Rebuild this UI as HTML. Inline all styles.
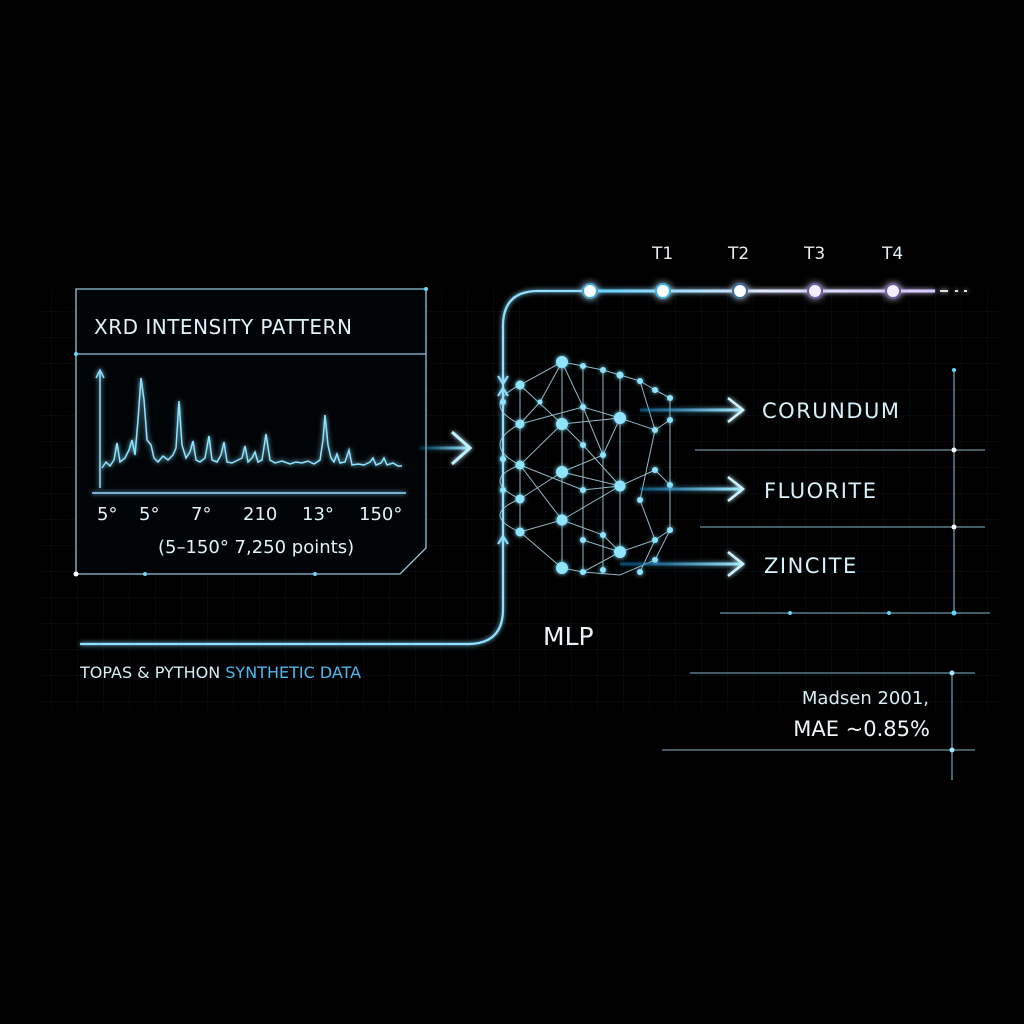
<!DOCTYPE html>
<html><head><meta charset="utf-8"><style>
html,body{margin:0;padding:0;background:#000;}
svg{display:block}
text{font-family:"DejaVu Sans","Liberation Sans",sans-serif;}
</style></head><body>
<svg width="1024" height="1024" viewBox="0 0 1024 1024" xmlns="http://www.w3.org/2000/svg">
<defs>
<filter id="g" x="-50%" y="-50%" width="200%" height="200%"><feGaussianBlur stdDeviation="2.5" result="b"/><feMerge><feMergeNode in="b"/><feMergeNode in="SourceGraphic"/></feMerge></filter>
<filter id="g2" x="-50%" y="-50%" width="200%" height="200%"><feGaussianBlur stdDeviation="4" result="b"/><feMerge><feMergeNode in="b"/><feMergeNode in="SourceGraphic"/></feMerge></filter>
<linearGradient id="tl" gradientUnits="userSpaceOnUse" x1="590" y1="0" x2="935" y2="0"><stop offset="0" stop-color="#5fd0ff"/><stop offset="0.5" stop-color="#e0e8ff"/><stop offset="1" stop-color="#d8c8ff"/></linearGradient>
<linearGradient id="ar1" gradientUnits="userSpaceOnUse" x1="640" y1="0" x2="743" y2="0"><stop offset="0" stop-color="#1a8fd0" stop-opacity="0.4"/><stop offset="1" stop-color="#a8ecff"/></linearGradient>
<linearGradient id="ar2" gradientUnits="userSpaceOnUse" x1="420" y1="0" x2="470" y2="0"><stop offset="0" stop-color="#1a8fd0" stop-opacity="0.2"/><stop offset="1" stop-color="#a8ecff"/></linearGradient>
<pattern id="grid" width="26" height="26" patternUnits="userSpaceOnUse"><path d="M26 0V26H0" fill="none" stroke="#0c2230" stroke-width="1"/></pattern>
</defs>
<rect width="1024" height="1024" fill="#000"/>
<rect x="40" y="290" width="960" height="420" fill="url(#grid)" opacity="0.6"/>

<!-- XRD box -->
<path d="M76 289H426V548L400 574H76Z" fill="#010407" stroke="#8fc7da" stroke-width="1.3"/>
<line x1="76" y1="354" x2="426" y2="354" stroke="#8fc7da" stroke-width="1.3"/>
<circle cx="426" cy="289" r="2" fill="#6fd8ff"/><circle cx="76" cy="354" r="2" fill="#6fd8ff"/><circle cx="76" cy="574" r="2.5" fill="#fff"/>
<circle cx="145" cy="574" r="2" fill="#6fd8ff"/><circle cx="315" cy="574" r="2" fill="#6fd8ff"/>
<text x="94" y="334" font-size="20" fill="#dff3fb" letter-spacing="0.5">XRD INTENSITY PATTERN</text>
<g filter="url(#g)">
<line x1="100" y1="488" x2="100" y2="372" stroke="#8fdcff" stroke-width="1.5"/>
<path d="M96 378L100 370L104 378" fill="none" stroke="#8fdcff" stroke-width="1.5"/>
<line x1="92" y1="493" x2="406" y2="493" stroke="#8fdcff" stroke-width="1.5"/>
<path d="M102 468 L106 462 L110 466 L114 460 L117 443 L120 462 L125 458 L129 450 L132 440 L135 455 L138 420 L141 378 L144 400 L147 440 L151 445 L154 458 L158 462 L163 456 L168 460 L173 455 L176 448 L179 401 L182 445 L186 458 L190 452 L193 441 L196 460 L200 462 L205 458 L209 436 L212 460 L217 462 L221 455 L224 442 L227 462 L232 463 L238 460 L242 458 L245 446 L248 462 L252 458 L255 452 L258 462 L262 460 L266 434 L270 460 L275 463 L282 461 L290 464 L296 462 L302 463 L308 461 L314 464 L320 460 L323 440 L325 415 L328 445 L331 458 L334 462 L337 454 L340 463 L345 462 L349 450 L352 465 L358 464 L364 465 L370 462 L373 458 L376 465 L381 463 L384 458 L387 465 L393 463 L398 466 L402 466" fill="none" stroke="#8ee4ff" stroke-width="1.5"/>
</g>
<g font-size="18" fill="#dff3fb">
<text x="97" y="520">5°</text><text x="139" y="520">5°</text><text x="191" y="520">7°</text><text x="243" y="520">210</text><text x="302" y="520">13°</text><text x="359" y="520">150°</text>
<text x="158" y="553">(5–150° 7,250 points)</text>
</g>
<!-- arrow to net -->
<g filter="url(#g)">
<line x1="420" y1="448" x2="470" y2="448" stroke="url(#ar2)" stroke-width="3"/>
<path d="M452 432L470 448L452 464" fill="none" stroke="#bfefff" stroke-width="3"/>
</g>

<!-- curve line + timeline -->
<g filter="url(#g)">
<path d="M80 644H468Q503 644 503 609V326Q503 291 538 291H590" fill="none" stroke="#8fe0ff" stroke-width="2.2"/>
<line x1="590" y1="291" x2="935" y2="291" stroke="url(#tl)" stroke-width="3"/>
<path d="M940 291H948M955 291H958M964 291H967" stroke="#ddd" stroke-width="2"/>
<path d="M498 376L503 384L508 376M498 396L503 388L508 396M498 544L503 536L508 544" fill="none" stroke="#8fe0ff" stroke-width="2"/>
</g>
<g filter="url(#g2)">
<circle cx="590" cy="291" r="7" fill="#fff" stroke="#3aa6d8" stroke-width="2"/>
<circle cx="663" cy="291" r="7" fill="#fff" stroke="#3ab0e0" stroke-width="2"/>
<circle cx="740" cy="291" r="7" fill="#fff" stroke="#3a6aa0" stroke-width="2"/>
<circle cx="815" cy="291" r="7" fill="#f5eeff" stroke="#6a5aa0" stroke-width="2"/>
<circle cx="893" cy="291" r="7" fill="#f5eeff" stroke="#6a5aa0" stroke-width="2"/>
</g>
<g font-size="17" fill="#e6eef5"><text x="652" y="259">T1</text><text x="728" y="259">T2</text><text x="804" y="259">T3</text><text x="882" y="259">T4</text></g>

<!-- Network -->
<g stroke="#a9d7e6" stroke-width="1" fill="none" opacity="0.85">
<path d="M562 362L520 385L520 424L520 465L520 499L520 532L562 568M562 362L562 424L562 472L562 520L562 568M562 362L583 366L603 370L620 375L640 381L655 390L670 398M520 385L562 424L520 465L562 520L520 532M562 362L540 402L520 424M562 424L620 418L583 407L562 362M620 418L655 430L670 420M562 424L583 445L620 486M562 472L620 486L655 470L670 485M562 472L603 455L620 418M562 520L620 486M562 520L603 535L620 552L655 540L670 530M562 568L583 572L620 552M620 375L620 418L620 486L620 552M583 366L583 572M603 370L603 570M640 381L655 430L640 500L655 540L640 572M655 390L670 398L670 530L655 560L620 575L583 572M520 385Q480 405 520 424Q480 445 520 465Q480 480 520 499Q480 515 520 532M520 424L583 407L603 455L562 472M520 499L562 472M520 465L583 490L620 486M583 490L583 540L620 552"/>
</g>
<g fill="#8fe4ff" filter="url(#g)">
<circle cx="562" cy="362" r="6"/><circle cx="562" cy="424" r="6"/><circle cx="562" cy="472" r="6"/><circle cx="562" cy="520" r="5.5"/><circle cx="562" cy="568" r="6"/>
<circle cx="620" cy="418" r="6"/><circle cx="620" cy="486" r="5.5"/><circle cx="620" cy="552" r="6"/>
<circle cx="520" cy="385" r="4.5"/><circle cx="520" cy="424" r="4.5"/><circle cx="520" cy="465" r="4.5"/><circle cx="520" cy="499" r="4.5"/><circle cx="520" cy="532" r="4.5"/>
<circle cx="583" cy="366" r="3"/><circle cx="603" cy="370" r="3"/><circle cx="620" cy="375" r="3.5"/><circle cx="640" cy="381" r="3"/><circle cx="655" cy="390" r="3"/><circle cx="670" cy="398" r="3"/>
<circle cx="583" cy="407" r="3"/><circle cx="540" cy="402" r="2.5"/><circle cx="583" cy="445" r="3"/><circle cx="603" cy="455" r="3"/><circle cx="655" cy="430" r="3"/><circle cx="670" cy="420" r="3"/>
<circle cx="655" cy="470" r="3"/><circle cx="670" cy="485" r="3"/><circle cx="583" cy="490" r="3"/><circle cx="640" cy="500" r="3"/><circle cx="603" cy="535" r="3"/>
<circle cx="655" cy="540" r="3"/><circle cx="670" cy="530" r="3"/><circle cx="583" cy="540" r="3"/><circle cx="583" cy="572" r="3"/><circle cx="603" cy="570" r="3"/><circle cx="640" cy="572" r="3"/><circle cx="655" cy="560" r="3"/>
<circle cx="503" cy="402" r="3"/><circle cx="503" cy="459" r="3"/><circle cx="503" cy="490" r="3"/>
</g>
<text x="543" y="645" font-size="25" fill="#eef4f8">MLP</text>

<!-- outputs -->
<g filter="url(#g)">
<line x1="640" y1="410" x2="743" y2="410" stroke="url(#ar1)" stroke-width="3"/><path d="M728 398L743 410L728 422" fill="none" stroke="#cdf3ff" stroke-width="2.5"/>
<line x1="640" y1="489" x2="743" y2="489" stroke="url(#ar1)" stroke-width="3"/><path d="M728 477L743 489L728 501" fill="none" stroke="#cdf3ff" stroke-width="2.5"/>
<line x1="620" y1="564" x2="743" y2="564" stroke="url(#ar1)" stroke-width="3"/><path d="M728 552L743 564L728 576" fill="none" stroke="#cdf3ff" stroke-width="2.5"/>
</g>
<g font-size="21" fill="#d8f2fb" letter-spacing="1.5">
<text x="762" y="418">CORUNDUM</text><text x="764" y="498">FLUORITE</text><text x="764" y="573">ZINCITE</text>
</g>
<g stroke="#7fb7c8" stroke-width="1.1">
<line x1="954" y1="370" x2="954" y2="613"/>
<line x1="695" y1="450" x2="985" y2="450"/>
<line x1="700" y1="527" x2="985" y2="527"/>
<line x1="720" y1="613" x2="990" y2="613"/>
<line x1="690" y1="673" x2="975" y2="673"/>
<line x1="952" y1="673" x2="952" y2="780"/>
<line x1="662" y1="750" x2="975" y2="750"/>
</g>
<g fill="#fff"><circle cx="954" cy="450" r="2.5"/><circle cx="954" cy="527" r="2.5"/><circle cx="954" cy="613" r="2.5" fill="#5fd8ff"/><circle cx="790" cy="613" r="2" fill="#5fd8ff"/><circle cx="889" cy="613" r="2" fill="#5fd8ff"/><circle cx="952" cy="673" r="2.5" fill="#9fe8ff"/><circle cx="952" cy="750" r="2.5" fill="#9fe8ff"/><circle cx="954" cy="370" r="2" fill="#5fd8ff"/></g>
<text x="929" y="704" font-size="18" fill="#d8eef5" text-anchor="end">Madsen 2001,</text>
<text x="930" y="736" font-size="21" fill="#eef6fa" text-anchor="end">MAE ~0.85%</text>

<text x="80" y="678" font-size="16" fill="#d8eef5">TOPAS &amp; PYTHON <tspan fill="#4fb8f0">SYNTHETIC DATA</tspan></text>
</svg>
</body></html>
